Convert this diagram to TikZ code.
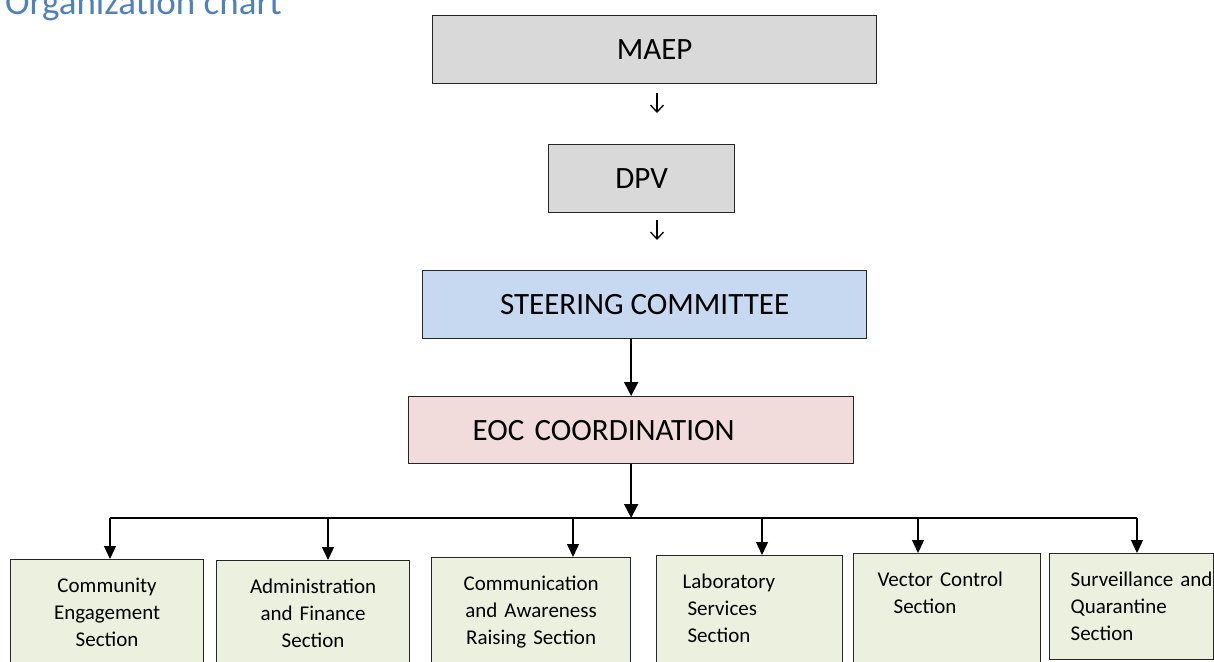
\documentclass[tikz,border=0pt]{standalone}
\usepackage{fontspec}
\setmainfont{Carlito}
\usetikzlibrary{arrows.meta}

\definecolor{titleblue}{RGB}{79,129,189}
\definecolor{boxgrey}{RGB}{217,217,217}
\definecolor{boxblue}{RGB}{198,217,241}
\definecolor{boxpink}{RGB}{242,220,219}
\definecolor{boxgreen}{RGB}{235,241,222}

\begin{document}
\begin{tikzpicture}[x=1pt, y=-1pt,
    topbox/.style={draw=black!85, line width=1.3pt, anchor=north west, minimum height=68pt, inner sep=0pt, font=\fontsize{31}{37}\selectfont},
    section/.style={draw=black!85, line width=1.2pt, fill=boxgreen, anchor=north west, inner xsep=0pt, inner ysep=18pt, text height=15pt, text depth=110pt, font=\fontsize{21}{27}\selectfont},
    mainarrow/.style={line width=1.8pt, -{Triangle[width=14pt,length=14pt]}},
    droparrow/.style={line width=1.3pt, -{Triangle[width=12pt,length=13pt]}},
    glypharrow/.style={line width=1.3pt, -{Straight Barb[width=13pt,length=7pt]}}]

    \useasboundingbox (0,0) rectangle (1214,661);

    % Title
    \node[titleblue, anchor=base west, inner sep=0pt, font=\fontsize{37}{44}\selectfont] (title) at (5,15) {Organization chart};

    % Upper levels
    \node[topbox, fill=boxgrey, minimum width=444pt] (maep) at (432,15) {MAEP};
    \node[topbox, fill=boxgrey, minimum width=186pt] (dpv) at (548,144) {DPV};
    \node[topbox, fill=boxblue, minimum width=444pt] (steer) at (422,270) {STEERING COMMITTEE};
    \node[topbox, fill=boxpink, minimum width=445pt, minimum height=67pt, text width=445pt, align=left] (eoc) at (408,396) {\hspace*{64pt}EOC COORDINATION};

    % Small arrows
    \coordinate (gx) at (657,0);
    \draw[glypharrow, shorten <=9pt, shorten >=31pt] (maep.south -| gx) -- (dpv.north -| gx);
    \draw[glypharrow, shorten <=7pt, shorten >=30pt] (dpv.south -| gx) -- (steer.north -| gx);

    \draw[mainarrow] (steer.south -| eoc.north) -- (eoc.north);

    % Sections
    \node[section, text width=193pt, align=center] (comm) at (10,559) {Community\\Engagement\\Section};
    \node[section, text width=193pt, align=center] (admin) at (216,560) {Administration\\and Finance\\Section};
    \node[section, text width=199pt, align=center] (commun) at (431,557) {Communication\\and Awareness\\Raising Section};
    \node[section, text width=186pt, align=left] (lab) at (656,555) {\hspace*{26pt}Laboratory\\\hspace*{31pt}Services\\\hspace*{31pt}Section};
    \node[section, text width=187pt, align=left] (vector) at (853,553) {\hspace*{24pt}Vector Control\\\hspace*{40pt}Section};
    \node[section, text width=164pt, align=left, text depth=55pt] (surv) at (1049,553) {\hspace*{21pt}Surveillance and\\\hspace*{21pt}Quarantine\\\hspace*{21pt}Section};

    % Bus
    \coordinate (busL) at (110,518);
    \coordinate (busR) at (1137,518);
    \draw[line width=1.5pt] (busL) -- (busR);
    \draw[mainarrow] (eoc.south) -- (eoc.south |- busL);

    \foreach \x/\n in {110/comm, 328/admin, 573/commun, 762/lab, 918/vector, 1137/surv}{
        \coordinate (d\n) at (\x,518);
        \draw[droparrow] (d\n) -- (d\n |- \n.north);
    }

\end{tikzpicture}
\end{document}
